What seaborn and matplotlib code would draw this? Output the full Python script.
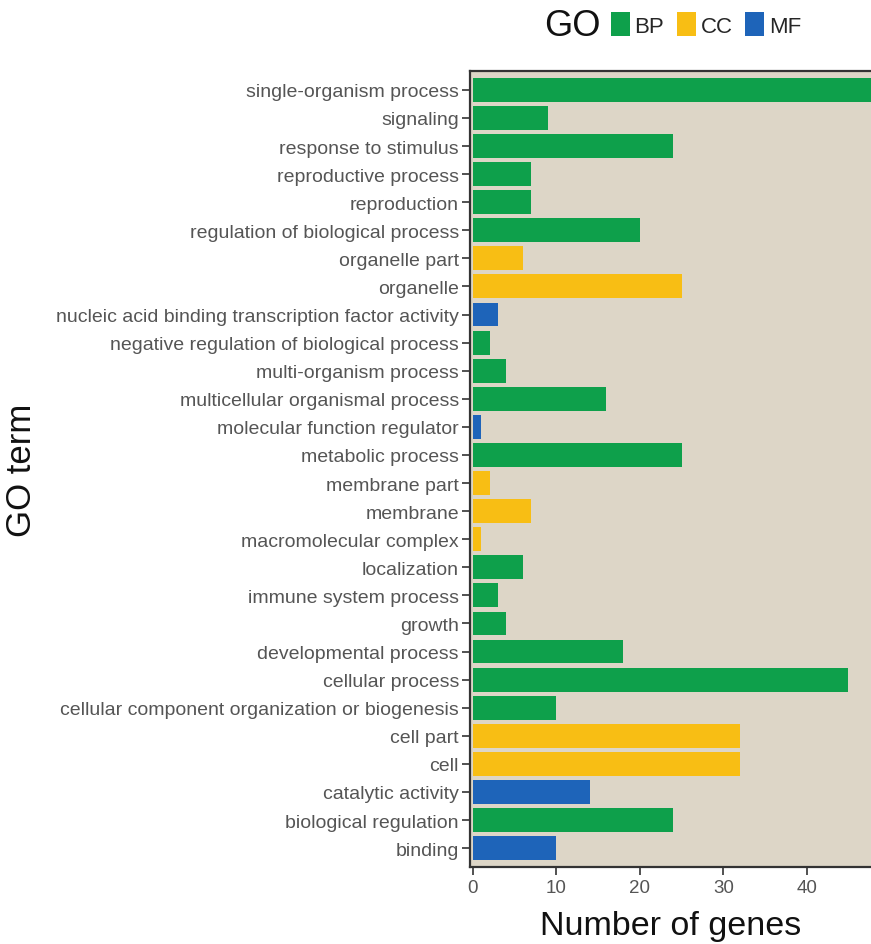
import matplotlib
matplotlib.use("Agg")
import matplotlib.pyplot as plt
import seaborn as sns
import pandas as pd

# GO terms, listed top to bottom
terms = [
    "single-organism process",
    "signaling",
    "response to stimulus",
    "reproductive process",
    "reproduction",
    "regulation of biological process",
    "organelle part",
    "organelle",
    "nucleic acid binding transcription factor activity",
    "negative regulation of biological process",
    "multi-organism process",
    "multicellular organismal process",
    "molecular function regulator",
    "metabolic process",
    "membrane part",
    "membrane",
    "macromolecular complex",
    "localization",
    "immune system process",
    "growth",
    "developmental process",
    "cellular process",
    "cellular component organization or biogenesis",
    "cell part",
    "cell",
    "catalytic activity",
    "biological regulation",
    "binding",
]
counts = [52, 9, 24, 7, 7, 20, 6, 25, 3, 2, 4, 16, 1, 25, 2, 7, 1, 6, 3, 4,
          18, 45, 10, 32, 32, 14, 24, 10]
ontology = ["BP", "BP", "BP", "BP", "BP", "BP", "CC", "CC", "MF", "BP", "BP",
            "BP", "MF", "BP", "CC", "CC", "CC", "BP", "BP", "BP", "BP", "BP",
            "BP", "CC", "CC", "MF", "BP", "MF"]
go_levels = ["BP", "CC", "MF"]
go_colors = ["#0EA04B", "#F8BE14", "#1E64B9"]
x_ticks = [0, 10, 20, 30, 40]

df = pd.DataFrame({"term": terms, "count": counts, "GO": ontology})

sns.set_style("white")
plt.rcParams["font.family"] = ["Liberation Sans", "DejaVu Sans"]

fig = plt.figure(figsize=(8.71, 9.45), dpi=100)
ax = fig.add_axes([0.5396, 0.0815, 0.4604, 0.8423])
ax.set_facecolor("#DDD6C7")

sns.barplot(data=df, x="count", y="term", hue="GO", hue_order=go_levels,
            palette=go_colors, order=terms, dodge=False, width=0.85,
            orient="h", ax=ax, legend=True, saturation=1, linewidth=0)

ax.set_xlim(-0.36, 47.7)
ax.set_ylim(len(terms) - 1 + 0.67, -0.67)
ax.set_xticks(x_ticks)

for side in ["left", "bottom", "top"]:
    ax.spines[side].set_color("#333333")
    ax.spines[side].set_linewidth(1.6)
ax.spines["right"].set_visible(False)

ax.tick_params(axis="both", which="both", direction="out", length=6, width=1.2,
               color="#333333", labelcolor="#555555", pad=2,
               left=True, bottom=True)
ax.tick_params(axis="y", labelsize=14)
ax.tick_params(axis="x", labelsize=13.5, pad=3)

ax.set_xlabel("Number of genes", fontsize=24.5, color="#111111", labelpad=10)
ax.set_ylabel("GO term", fontsize=25, color="#111111")
ax.yaxis.set_label_coords(-1.078, 0.5)

handles, labels = ax.get_legend_handles_labels()
ax.get_legend().remove()
fig.text(0.6575, 0.9715, "GO", fontsize=26, color="#111111", ha="center", va="center")
fig.legend(handles, labels, ncol=3, loc="center left", bbox_to_anchor=(0.701, 0.973),
           frameon=False, fontsize=16, handlelength=0.88, handleheight=1.25,
           handletextpad=0.2, columnspacing=0.55, borderaxespad=0, borderpad=0)

fig.savefig("out.png", dpi=100)
